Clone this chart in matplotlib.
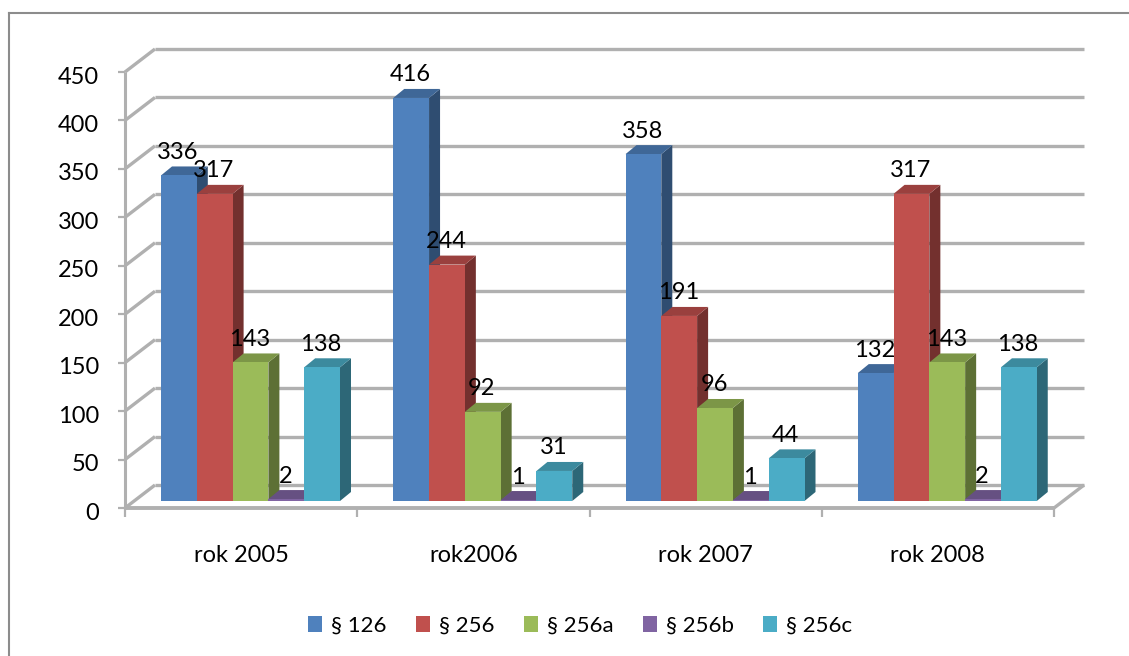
"""
Chart: counts per paragraph by year, drawn as a fake 3D column chart.
"""

import matplotlib
matplotlib.use("Agg")
import matplotlib.pyplot as plt
from matplotlib.patches import Patch, Polygon, Rectangle

W, H = 1129, 656

years = ["rok 2005", "rok2006", "rok 2007", "rok 2008"]
series_names = ["§ 126", "§ 256", "§ 256a", "§ 256b", "§ 256c"]
p126 = [336, 416, 358, 132]
p256 = [317, 244, 191, 317]
p256a = [143, 92, 96, 143]
p256b = [2, 1, 1, 2]
p256c = [138, 31, 44, 138]
all_series = [p126, p256, p256a, p256b, p256c]

front_colors = ["#4F81BD", "#C0504D", "#9BBB59", "#8064A2", "#4BACC6"]
top_colors = ["#3F6797", "#9A403E", "#7C9647", "#665082", "#3C8A9E"]
side_colors = ["#2F4D71", "#73302E", "#5D7035", "#4D3C61", "#2D6777"]
GRID = "#B0B0B0"

plt.rcParams["font.family"] = ["Lato", "DejaVu Sans"]

fig = plt.figure(figsize=(W / 100, H / 100), dpi=100)
# plot area is the front plane of the chart box
ax = fig.add_axes([125 / W, 1 - 508 / H, (1054 - 125) / W, (508 - 72) / H])
ax.set_xlim(0, 4)
ax.set_ylim(0, 450)
ax.patch.set_visible(False)
for s in ax.spines.values():
    s.set_visible(False)

dx_unit = 4 / (1054 - 125)   # data per pixel, x
dy_unit = 450 / (508 - 72)   # data per pixel, y

# box depth and column depth
box_dx, box_dy = 30 * dx_unit, 23 * dy_unit
col_dx, col_dy = 11 * dx_unit, 9 * dy_unit
base = 7 * dy_unit
bar_w = 35.8 * dx_unit
group_start = 36 * dx_unit


def line(xs, ys, lw=2.4, z=1):
    ax.plot(xs, ys, color=GRID, lw=lw, zorder=z, clip_on=False, solid_capstyle="butt")


# gridlines on side and back wall
for v in range(0, 451, 50):
    line([0, box_dx], [v, v + box_dy])
    line([box_dx, 4 + box_dx], [v + box_dy, v + box_dy])
line([0, 4], [0, 0], lw=2.8)
line([4, 4 + box_dx], [0, box_dy])
line([0, 0], [0, 450], lw=2.2)

# ticks
for v in range(0, 451, 50):
    line([-7 * dx_unit, 0], [v, v], lw=1.6)
for i in range(5):
    line([i, i], [0, -9 * dy_unit], lw=1.6)

ax.set_xticks([])
ax.set_yticks([])
for v in range(0, 451, 50):
    ax.annotate(str(v), (0, v), xytext=(-26, -5), textcoords="offset pixels",
                ha="right", va="center", fontsize=17, color="black", annotation_clip=False)
for i, year in enumerate(years):
    ax.annotate(year, (i + 0.5, 0), xytext=(0, -48), textcoords="offset pixels",
                ha="center", va="center", fontsize=17, color="black", annotation_clip=False)

# columns
for g in range(4):
    for k, values in enumerate(all_series):
        v = values[g]
        x0 = g + group_start + k * bar_w
        x1 = x0 + bar_w
        y0, y1 = base, base + v
        ax.add_patch(Polygon([(x1, y0), (x1 + col_dx, y0 + col_dy),
                              (x1 + col_dx, y1 + col_dy), (x1, y1)],
                             fc=side_colors[k], ec="none", zorder=3, clip_on=False))
        ax.add_patch(Polygon([(x0, y1), (x1, y1), (x1 + col_dx, y1 + col_dy),
                              (x0 + col_dx, y1 + col_dy)],
                             fc=top_colors[k], ec="none", zorder=3, clip_on=False))
        ax.add_patch(Rectangle((x0, y0), bar_w, v, fc=front_colors[k], ec="none",
                               zorder=3, clip_on=False))
        ax.annotate(str(v), ((x0 + x1) / 2, y1), xytext=(-1, 23), textcoords="offset pixels",
                    ha="center", va="center", fontsize=17, color="black", zorder=5,
                    annotation_clip=False)

handles = [Patch(fc=c, ec="none", label=n) for c, n in zip(front_colors, series_names)]
fig.legend(handles=handles, loc="center", bbox_to_anchor=(580 / W, 1 - 626 / H), ncol=5,
           frameon=False, fontsize=16, handlelength=0.64, handleheight=0.73,
           handletextpad=0.4, columnspacing=1.32)

# outer chart frame, open to the right and bottom
fig.add_artist(plt.Line2D([9 / W, 9 / W], [0, 1 - 13 / H], color="#8C8C8C", lw=1.5))
fig.add_artist(plt.Line2D([9 / W, 1], [1 - 13 / H, 1 - 13 / H], color="#8C8C8C", lw=1.5))

fig.savefig("out.png", dpi=100)
